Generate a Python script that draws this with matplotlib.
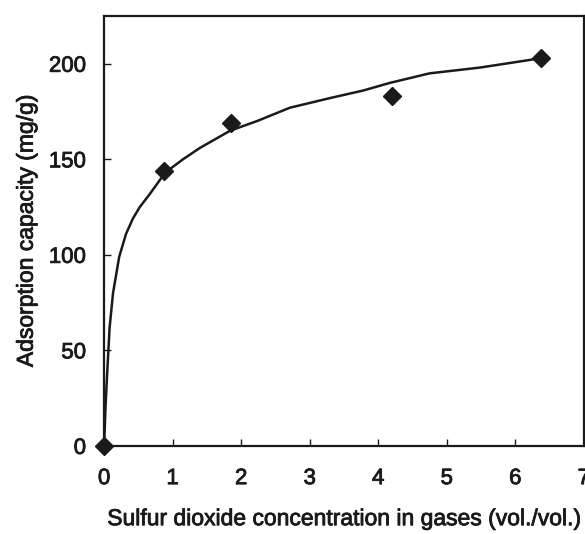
import matplotlib
matplotlib.use("Agg")
import matplotlib.pyplot as plt
import matplotlib.patheffects as pe

# measured points
conc = [0.0, 0.87, 1.85, 4.2, 6.37]
capacity = [0.0, 144, 169, 183, 203]

# fitted curve
curve_x = [0.0, 0.02, 0.04, 0.08, 0.13, 0.22, 0.32, 0.42, 0.52, 0.67,
           0.89, 1.15, 1.40, 1.84, 2.23, 2.71, 3.29, 3.78, 4.17, 4.75,
           5.48, 6.21, 6.36]
curve_y = [0.0, 20, 35, 62, 80, 99, 111, 119, 125, 132,
           143, 150, 156, 165, 170, 177, 182, 186, 190, 195,
           198, 202, 203]

plt.rcParams["font.family"] = ["Liberation Sans", "DejaVu Sans"]
ink = "#1a1a1a"
heavy = [pe.withStroke(linewidth=0.6, foreground=ink)]

fig = plt.figure(figsize=(5.85, 5.34), dpi=100)
ax = fig.add_axes([0.178, 0.165, 0.82, 0.805])

ax.plot(curve_x, curve_y, color=ink, lw=1.8, zorder=2)
ax.plot(conc, capacity, ls="none", marker="D", ms=9, color=ink,
        clip_on=False, zorder=3)

ax.set_xlim(0, 7)
ax.set_ylim(0, 225)
ax.set_xticks(range(0, 8))
ax.set_yticks([0, 50, 100, 150, 200])
ax.tick_params(direction="in", length=5, width=1, labelsize=16, pad=13,
               colors=ink)
ax.tick_params(axis="x", pad=16)

for side in ("left", "bottom", "top", "right"):
    ax.spines[side].set_linewidth(1.6)
    ax.spines[side].set_color(ink)

ax.set_xlabel("Sulfur dioxide concentration in gases (vol./vol.)", fontsize=16.5,
              labelpad=13, color=ink)
ax.set_ylabel("Adsorption capacity (mg/g)", fontsize=16.5, labelpad=8, color=ink)

for t in ax.get_xticklabels() + ax.get_yticklabels() + [ax.xaxis.label, ax.yaxis.label]:
    t.set_path_effects(heavy)

fig.savefig("out.png", dpi=100)
